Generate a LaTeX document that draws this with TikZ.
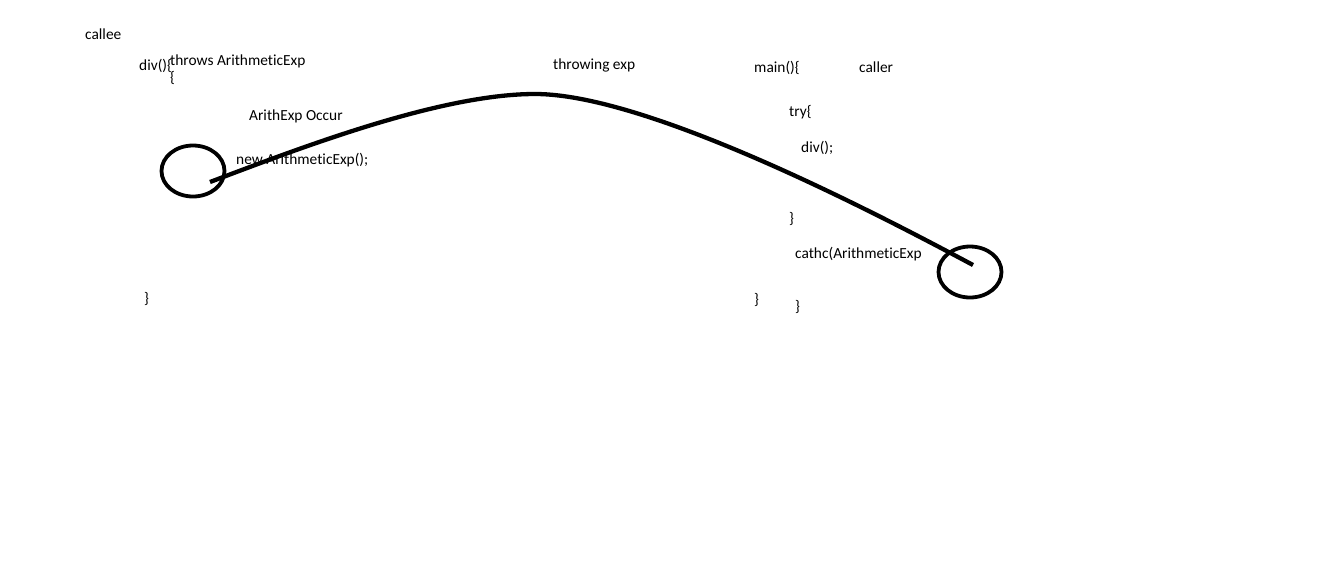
\documentclass[tikz,border=0pt]{standalone}
\usepackage{fontspec}
\setmainfont{Carlito}[Ligatures={NoCommon}]
\usetikzlibrary{shapes.geometric, positioning}
\tikzset{
    code/.style={
        inner sep=0pt, anchor=base west, text=black,
        font=\fontsize{15.4}{17}\selectfont
    },
    ring/.style={
        ellipse, draw=black, line width=3.8pt, inner sep=0pt,
        minimum width=63pt, minimum height=51pt
    },
    flow/.style={draw=black, line width=4.3pt}
}

\begin{document}
\begin{tikzpicture}[x=1pt, y=-1pt]
\useasboundingbox[fill=white] (0,0) rectangle (1330,574);

% Callee side
\node[code] (callee) at (85,39) {callee};
\node[code] (divdef) at (139,70) {div()\{};
\node[code] (throws) at (170,65) {throws ArithmeticExp};
\node[code] (openbr) at (170,82) {\{};
\node[code] (occur) at (249,120) {ArithExp Occur};
\node[code] (newexp) at (236,164) {new ArithmeticExp();};
\node[code] (divend) at (144,303) {\}};

% Caller side
\node[code] (throwing) at (553,69) {throwing exp};
\node[code] (main) at (754,72) {main()\{};
\node[code] (caller) at (859,72) {caller};
\node[code] (try) at (789,116) {try\{};
\node[code] (divcall) at (801,152) {div();};
\node[code] (tryend) at (789,223) {\}};
\node[code] (catch) at (795,258) {cathc(ArithmeticExp};
\node[code] (mainend) at (754,304) {\}};
\node[code] (catchend) at (795,311) {\}};

% Rings
\node[ring] (source) at (193,171) {};
\node[ring] (target) at (970,272) {};

% Throw path
\coordinate (thrown) at (210,182);
\coordinate (apex) at (535,94);
\coordinate (caught) at (973,265);
\draw[flow] (thrown) .. controls (300,148) and (440,94) .. (apex)
    .. controls (650,94) and (885,218) .. (caught);

\end{tikzpicture}
\end{document}
